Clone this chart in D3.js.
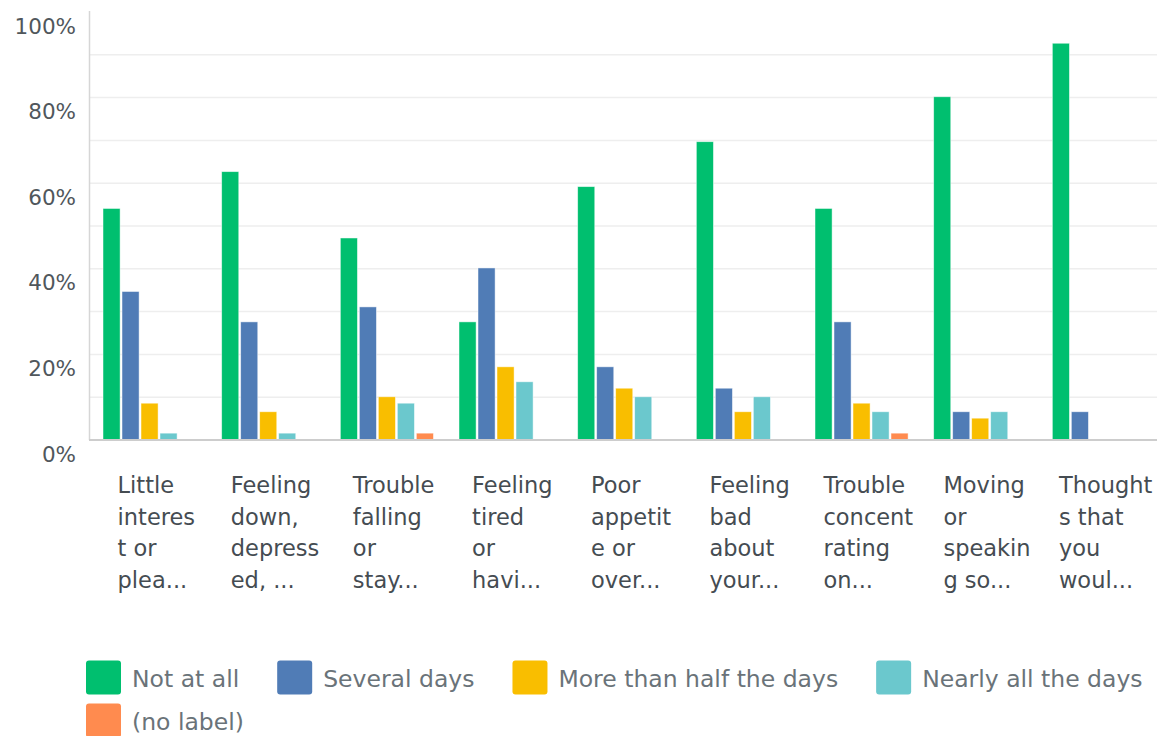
<!DOCTYPE html>
<html>
<head>
<meta charset="utf-8">
<script src="https://cdn.jsdelivr.net/npm/d3@7"></script>
<style>
  html, body { margin: 0; padding: 0; background: #ffffff; }
  svg { display: block; font-family: "DejaVu Sans", sans-serif; }
</style>
</head>
<body>
<svg id="chart" width="1163" height="736"></svg>
<script>
// ---- data ----
const categories = [
  "Little\ninteres\nt or\nplea...",
  "Feeling\ndown,\ndepress\ned, ...",
  "Trouble\nfalling\nor\nstay...",
  "Feeling\ntired\nor\nhavi...",
  "Poor\nappetit\ne or\nover...",
  "Feeling\nbad\nabout\nyour...",
  "Trouble\nconcent\nrating\non...",
  "Moving\nor\nspeakin\ng so...",
  "Thought\ns that\nyou\nwoul..."
];
const seriesNames = ["Not at all", "Several days", "More than half the days", "Nearly all the days", "(no label)"];
const seriesColors = ["#00bf6f", "#507cb6", "#f9be00", "#6bc8cd", "#ff8b4f"];
const notAtAll     = [54.1, 62.7, 47.2, 27.6, 59.2, 69.7, 54.1, 80.2, 92.7];
const severalDays  = [34.7, 27.6, 31.1, 40.2, 17.1, 12.1, 27.6, 6.6, 6.6];
const moreThanHalf = [8.6, 6.6, 10.1, 17.1, 12.1, 6.6, 8.6, 5.1, 0];
const nearlyAll    = [1.6, 1.6, 8.6, 13.6, 10.1, 10.1, 6.6, 6.6, 0];
const noLabel      = [0, 0, 1.6, 0, 0, 0, 1.6, 0, 0];
const yTickValues  = [0, 20, 40, 60, 80, 100];
const yGridValues  = [10, 20, 30, 40, 50, 60, 70, 80, 90];

const seriesValues = [notAtAll, severalDays, moreThanHalf, nearlyAll, noLabel];

// ---- layout ----
const svg = d3.select("#chart");
const plot = { left: 89, right: 1157, top: 12, bottom: 440 };

const x0 = d3.scaleBand().domain(categories.map((d, i) => i)).range([plot.left, plot.right]).padding(0);
const x1 = d3.scaleBand().domain(seriesNames).range([14, 14 + 93.1]).paddingInner(0.1).paddingOuter(0);
const y = d3.scaleLinear().domain([0, 100]).range([plot.bottom, plot.top]);

// gridlines
svg.append("g").selectAll("line").data(yGridValues).join("line")
  .attr("x1", plot.left).attr("x2", plot.right)
  .attr("y1", d => y(d)).attr("y2", d => y(d))
  .attr("stroke", "#eeeeee").attr("stroke-width", 1.5);

// y axis line
svg.append("line")
  .attr("x1", plot.left + 0.5).attr("x2", plot.left + 0.5)
  .attr("y1", plot.top - 1).attr("y2", plot.bottom)
  .attr("stroke", "#d6d6d6").attr("stroke-width", 1.5);

// y tick labels
const yAxis = d3.axisLeft(y).tickValues(yTickValues).tickFormat(d => d + "%").tickSize(0).tickPadding(0);
const yg = svg.append("g").attr("transform", `translate(76,0)`).call(yAxis);
yg.select(".domain").remove();
yg.selectAll("text")
  .attr("font-family", "DejaVu Sans, sans-serif")
  .attr("font-size", 21.5)
  .attr("fill", "#50575c")
  .attr("x", 0)
  .attr("dy", null)
  .attr("y", 21)
  .attr("text-anchor", "end");

// bars
const groups = svg.append("g").selectAll("g").data(categories.map((c, i) => i)).join("g")
  .attr("transform", i => `translate(${x0(i)},0)`);
groups.selectAll("rect")
  .data(i => seriesNames.map((s, k) => ({ s, k, v: seriesValues[k][i] })).filter(d => d.v > 0))
  .join("rect")
  .attr("x", d => x1(d.s))
  .attr("width", x1.bandwidth())
  .attr("y", d => y(d.v))
  .attr("height", d => y(0) - y(d.v))
  .attr("fill", d => seriesColors[d.k])
  .attr("stroke", "#ffffff").attr("stroke-opacity", 0.6).attr("stroke-width", 0.8);

// baseline
svg.append("line")
  .attr("x1", plot.left).attr("x2", plot.right)
  .attr("y1", plot.bottom).attr("y2", plot.bottom)
  .attr("stroke", "#cdcdcd").attr("stroke-width", 2);

// category labels
const labelG = svg.append("g");
categories.forEach((c, i) => {
  const lines = c.split("\n");
  const t = labelG.append("text")
    .attr("font-size", 22.5)
    .attr("fill", "#454c52");
  lines.forEach((ln, j) => {
    t.append("tspan").attr("x", 0).attr("y", 493 + j * 31.5).text(ln);
  });
  let maxW = 0;
  t.selectAll("tspan").each(function () { maxW = Math.max(maxW, this.getComputedTextLength()); });
  const cx = x0(i) + x0.bandwidth() / 2 + 8;
  t.attr("transform", `translate(${cx - maxW / 2},0)`);
});

// legend (flow layout)
const legend = svg.append("g");
const lg = { x0: 86, y0: 660.5, rowH: 43, sw: 35, sh: 34, textGap: 46, itemGap: 38, maxX: 1160 };
let lx = lg.x0, ly = lg.y0;
seriesNames.forEach((name, k) => {
  const item = legend.append("g");
  const txt = item.append("text")
    .attr("font-size", 23.5)
    .attr("fill", "#6a7379")
    .text(name);
  const w = txt.node().getComputedTextLength();
  if (lx + lg.textGap + w > lg.maxX) { lx = lg.x0; ly += lg.rowH; }
  item.insert("rect", "text")
    .attr("x", lx).attr("y", ly).attr("width", lg.sw).attr("height", lg.sh)
    .attr("rx", 3).attr("fill", seriesColors[k]);
  txt.attr("x", lx + lg.textGap).attr("y", ly + 26);
  lx += lg.textGap + w + lg.itemGap;
});
</script>
</body>
</html>
